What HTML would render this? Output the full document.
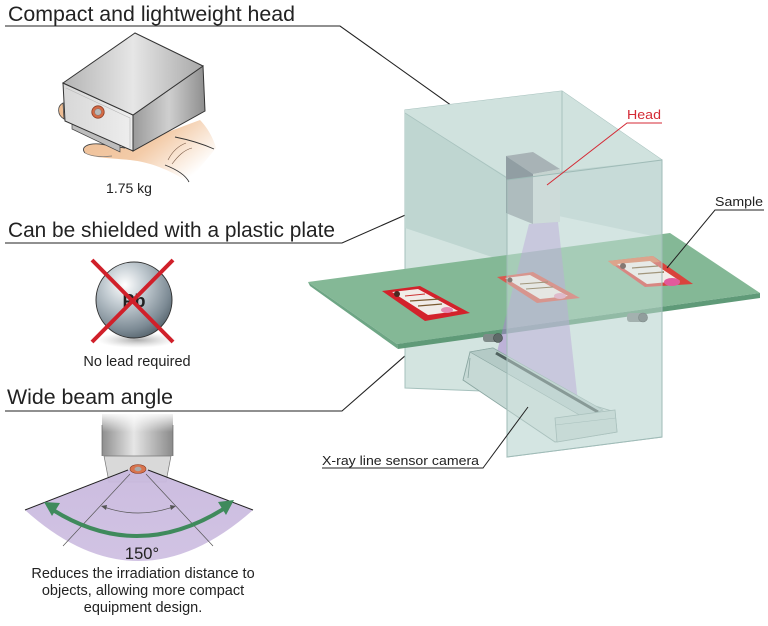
<!DOCTYPE html>
<html>
<head>
<meta charset="utf-8">
<style>
html,body{margin:0;padding:0;background:#fff;}
svg{display:block;}
text{font-family:"Liberation Sans",Arial,sans-serif;}
</style>
</head>
<body>
<svg width="768" height="626" viewBox="0 0 768 626" xmlns="http://www.w3.org/2000/svg">
<defs>
  <linearGradient id="skin" x1="0" y1="0" x2="1" y2="0.6">
    <stop offset="0" stop-color="#eebd93"/>
    <stop offset="0.55" stop-color="#f3cba8"/>
    <stop offset="1" stop-color="#ffffff"/>
  </linearGradient>
  <linearGradient id="boxTop" x1="0" y1="0" x2="1" y2="0">
    <stop offset="0" stop-color="#b4b4b4"/>
    <stop offset="0.5" stop-color="#e6e6e6"/>
    <stop offset="1" stop-color="#a8a8a8"/>
  </linearGradient>
  <linearGradient id="boxFront" x1="0" y1="0" x2="1" y2="0">
    <stop offset="0" stop-color="#d7d7d7"/>
    <stop offset="1" stop-color="#eeeeee"/>
  </linearGradient>
  <linearGradient id="boxRight" x1="0" y1="0" x2="1" y2="0">
    <stop offset="0" stop-color="#9a9a9a"/>
    <stop offset="0.5" stop-color="#cfcfcf"/>
    <stop offset="1" stop-color="#8e8e8e"/>
  </linearGradient>
  <radialGradient id="ball" cx="0.38" cy="0.3" r="0.75">
    <stop offset="0" stop-color="#ffffff"/>
    <stop offset="0.35" stop-color="#c4cdd3"/>
    <stop offset="0.8" stop-color="#7c8a94"/>
    <stop offset="1" stop-color="#55636c"/>
  </radialGradient>
  <radialGradient id="shadow" cx="0.5" cy="0.5" r="0.5">
    <stop offset="0" stop-color="#888" stop-opacity="0.7"/>
    <stop offset="1" stop-color="#bbb" stop-opacity="0"/>
  </radialGradient>
  <linearGradient id="devBody" x1="0" y1="0" x2="1" y2="0">
    <stop offset="0" stop-color="#8e8e8e"/>
    <stop offset="0.45" stop-color="#e6e6e6"/>
    <stop offset="1" stop-color="#8a8a8a"/>
  </linearGradient>
  <linearGradient id="devFade" x1="0" y1="0" x2="0" y2="1">
    <stop offset="0" stop-color="#ffffff" stop-opacity="1"/>
    <stop offset="1" stop-color="#ffffff" stop-opacity="0"/>
  </linearGradient>
  <linearGradient id="fan" x1="0" y1="0" x2="0" y2="1">
    <stop offset="0" stop-color="#c9b9de"/>
    <stop offset="1" stop-color="#cfc0e2"/>
  </linearGradient>
</defs>

<!-- ========== LEFT: headings and leader lines ========== -->
<text x="8" y="21" font-size="21" fill="#222" textLength="287" lengthAdjust="spacingAndGlyphs">Compact and lightweight head</text>
<polyline points="5,26 340,26 525,158" fill="none" stroke="#222" stroke-width="1.1"/>

<text x="8" y="237" font-size="21" fill="#222" textLength="327" lengthAdjust="spacingAndGlyphs">Can be shielded with a plastic plate</text>
<polyline points="5,243 342,243 428,205" fill="none" stroke="#222" stroke-width="1.1"/>

<text x="7" y="404" font-size="21" fill="#222" textLength="166" lengthAdjust="spacingAndGlyphs">Wide beam angle</text>
<polyline points="5,411 342,411 534,243" fill="none" stroke="#222" stroke-width="1.1"/>

<!-- ========== Head on hand ========== -->
<path d="M63,103 C57,106 57,115 64,119 Z" fill="#eebd93" stroke="#444" stroke-width="0.8"/>
<path d="M85,153 C80,147 88,143 100,144 L125,148 L200,120 C208,128 214,140 216,148 L188,182 C170,170 150,162 130,160 C110,158 92,158 85,153 Z" fill="url(#skin)"/>
<path d="M85,153 C80,147 88,143 100,144 L125,148" fill="none" stroke="#444" stroke-width="0.9"/>
<path d="M85,153 C92,157 104,157 112,156" fill="none" stroke="#777" stroke-width="0.7"/>
<path d="M175,137 C190,140 205,145 214,149" fill="none" stroke="#333" stroke-width="0.9"/>
<path d="M165,165 C178,170 186,176 189,182" fill="none" stroke="#333" stroke-width="0.9"/>
<path d="M168,160 C172,152 178,146 186,143" fill="none" stroke="#7a5a45" stroke-width="0.6"/>
<path d="M172,164 C178,156 184,150 192,148" fill="none" stroke="#7a5a45" stroke-width="0.6"/>
<!-- box -->
<polygon points="72,120 120,143 120,152 72,129" fill="#bdbdbd" stroke="#444" stroke-width="0.7"/>
<polygon points="63,83 133,115 133,151 65,121" fill="url(#boxFront)" stroke="#333" stroke-width="1"/>
<polyline points="66,88 130,118 130,148" fill="none" stroke="#b5b5b5" stroke-width="0.6"/>
<polygon points="133,115 203,66 205,111 133,151" fill="url(#boxRight)" stroke="#333" stroke-width="1"/>
<polygon points="63,83 135,33 203,66 133,115" fill="url(#boxTop)" stroke="#333" stroke-width="1"/>
<circle cx="98" cy="112" r="6.2" fill="#d46a45" stroke="#8a3b22" stroke-width="0.8"/>
<circle cx="98" cy="112" r="3.3" fill="#b8b8b8" stroke="#777" stroke-width="0.5"/>
<text x="129" y="193" font-size="14" fill="#222" text-anchor="middle">1.75 kg</text>

<!-- ========== Pb ball ========== -->
<ellipse cx="137" cy="340" rx="40" ry="8" fill="url(#shadow)"/>
<circle cx="134" cy="300" r="38" fill="url(#ball)" stroke="#333" stroke-width="1"/>
<text x="134" y="307" font-size="18" font-weight="bold" fill="#222" text-anchor="middle">Pb</text>
<line x1="92" y1="260" x2="173" y2="342" stroke="#d0202a" stroke-width="4"/>
<line x1="173" y1="260" x2="92" y2="342" stroke="#d0202a" stroke-width="4"/>
<text x="137" y="366" font-size="14.5" fill="#222" text-anchor="middle">No lead required</text>

<!-- ========== Wide beam angle illustration ========== -->
<rect x="102" y="414" width="71" height="42" fill="url(#devBody)"/>
<rect x="100" y="412" width="75" height="20" fill="url(#devFade)"/>
<line x1="102" y1="425" x2="102" y2="456" stroke="#666" stroke-width="0.7"/>
<line x1="173" y1="425" x2="173" y2="456" stroke="#666" stroke-width="0.7"/>
<polygon points="104,456 171,456 166,482 109,482" fill="#d9d9d9" stroke="#777" stroke-width="0.7"/>
<path d="M128,470 L25,510 Q138,612 253,510 L148,470 Z" fill="url(#fan)" fill-opacity="0.95"/>
<line x1="128" y1="470" x2="25" y2="510" stroke="#222" stroke-width="1"/>
<line x1="148" y1="470" x2="253" y2="510" stroke="#222" stroke-width="1"/>
<line x1="130" y1="474" x2="63" y2="546" stroke="#555" stroke-width="0.7"/>
<line x1="146" y1="474" x2="213" y2="546" stroke="#555" stroke-width="0.7"/>
<path d="M104,507 Q138,519 173,507" fill="none" stroke="#555" stroke-width="0.7"/>
<polygon points="101,506 107,505 106,510" fill="#555"/>
<polygon points="176,506 170,505 171,510" fill="#555"/>
<ellipse cx="138" cy="469" rx="8" ry="4.5" fill="#d8744e" stroke="#8a3b22" stroke-width="0.6"/>
<ellipse cx="138" cy="469" rx="3.5" ry="2.2" fill="#aaa"/>
<path d="M53,510 Q138,563 225,508" fill="none" stroke="#3f8a5c" stroke-width="4"/>
<polygon points="44,502 60,503 52,516" fill="#3f8a5c"/>
<polygon points="234,500 218,502 226,515" fill="#3f8a5c"/>
<text x="142" y="559" font-size="16.5" fill="#222" text-anchor="middle">150°</text>
<text x="143" y="578" font-size="14.5" fill="#222" text-anchor="middle">Reduces the irradiation distance to</text>
<text x="143" y="595" font-size="14.5" fill="#222" text-anchor="middle">objects, allowing more compact</text>
<text x="143" y="612" font-size="14.5" fill="#222" text-anchor="middle">equipment design.</text>

<!-- ========== RIGHT: 3D system ========== -->
<polygon points="405,110 562,91 662,160 662,437 507,457 507,392 405,388" fill="#d3e4e0" stroke="#a6c1bd" stroke-width="1"/>
<polygon points="405,110 562,91 662,160 507,180 405,113" fill="#d0e2de"/>
<polygon points="405,113 507,177 507,262 405,228" fill="#bfd6d1"/>
<polygon points="507,177 662,160 662,238 507,205" fill="#bcd3cf"/>
<line x1="562" y1="91" x2="562" y2="175" stroke="#a9c3bf" stroke-width="1"/>
<line x1="405" y1="113" x2="507" y2="178" stroke="#a9c3bf" stroke-width="0.8"/>

<!-- conveyor plate -->
<polygon points="308,282 670,233 760,293 397,344" fill="#84b896"/>
<polygon points="397,344 760,293 760,298 398,349" fill="#5f9a78"/>
<polygon points="308,282 397,344 398,349 310,286" fill="#6ea685"/>

<!-- head -->
<polygon points="506,156 533,152 560,169 533,174" fill="#a8b3b6"/>
<polygon points="506,156 533,174 533,224 506,213" fill="#919ea3"/>
<polygon points="533,174 560,169 560,222 533,224" fill="#c6d3d0"/>

<!-- beam -->
<polygon points="529,224 558,222 578,402 497,352" fill="#a77fd0" fill-opacity="0.5"/>

<!-- rollers -->
<rect x="483" y="334" width="16" height="8" rx="3" fill="#7f8b89"/>
<ellipse cx="498" cy="338" rx="4.5" ry="4.5" fill="#5f6a69" stroke="#3f4847" stroke-width="0.6"/>
<rect x="627" y="313" width="17" height="9" rx="3" fill="#7f8b89"/>
<ellipse cx="643" cy="317.5" rx="4.5" ry="4.5" fill="#5f6a69" stroke="#3f4847" stroke-width="0.6"/>

<!-- sensor rail -->
<polygon points="470,352 493,348 592,405 615,412 617,432 555,442 463,380" fill="#c6d9d5" stroke="#8aa6a1" stroke-width="0.9"/>
<polygon points="470,352 493,348 603,410 583,417" fill="#b4cac6" stroke="#8aa6a1" stroke-width="0.6"/>
<line x1="496" y1="353" x2="598" y2="412" stroke="#50625f" stroke-width="3"/>
<line x1="470" y1="358" x2="468" y2="378" stroke="#8aa6a1" stroke-width="0.8"/>
<polygon points="555,418 615,410 617,432 557,442" fill="#bcd1cc" stroke="#8aa6a1" stroke-width="0.8"/>
<line x1="555" y1="425" x2="616" y2="418" stroke="#8aa6a1" stroke-width="0.6"/>

<!-- samples -->
<polygon points="382,291 420,286 470,313 425,321" fill="#d3222b"/>
<polygon points="392,292 418,289 458,311 428,315" fill="#f1ece8"/>
<circle cx="397" cy="294" r="3" fill="#4a2a22"/>
<ellipse cx="447" cy="310" rx="6" ry="3" fill="#e58ab0"/>
<line x1="405" y1="296" x2="425" y2="294" stroke="#c33" stroke-width="1"/>
<line x1="410" y1="301" x2="440" y2="299" stroke="#7a5a30" stroke-width="1.2"/>
<line x1="418" y1="306" x2="442" y2="304" stroke="#7a5a30" stroke-width="1.2"/>

<polygon points="497,277 533,272 580,298 537,303" fill="#d85a50"/>
<polygon points="505,278 530,275 568,296 540,299" fill="#efe6e2"/>
<circle cx="510" cy="280" r="2.5" fill="#4a2a22"/>
<ellipse cx="560" cy="296" rx="6" ry="3" fill="#e59ab8"/>
<line x1="520" y1="284" x2="548" y2="282" stroke="#7a5a30" stroke-width="1.1"/>
<line x1="526" y1="289" x2="553" y2="287" stroke="#7a5a30" stroke-width="1.1"/>

<polygon points="608,261 653,256 693,284 645,287" fill="#d9433c"/>
<polygon points="608,261 653,256 660,262 614,266" fill="#e0744c"/>
<polygon points="617,264 650,261 680,281 647,284" fill="#f3ece8"/>
<circle cx="623" cy="266" r="3" fill="#4a2a22"/>
<ellipse cx="672" cy="282" rx="8" ry="4" fill="#e25a9c"/>
<line x1="632" y1="268" x2="658" y2="266" stroke="#7a5a30" stroke-width="1.2"/>
<line x1="638" y1="274" x2="664" y2="272" stroke="#7a5a30" stroke-width="1.2"/>

<!-- front transparent panel -->
<polygon points="507,180 662,160 662,437 507,457" fill="#d6e8e4" fill-opacity="0.42" stroke="#9fbbb7" stroke-width="1"/>

<!-- right labels and leaders -->
<text x="627" y="119" font-size="13" fill="#d42a35" textLength="34" lengthAdjust="spacingAndGlyphs">Head</text>
<polyline points="662,123 627,123 547,185" fill="none" stroke="#d42a35" stroke-width="1"/>

<text x="715" y="206" font-size="13" fill="#222" textLength="48" lengthAdjust="spacingAndGlyphs">Sample</text>
<polyline points="764,210 715,210 667,268" fill="none" stroke="#222" stroke-width="1"/>

<text x="322" y="465" font-size="13" fill="#222" textLength="157" lengthAdjust="spacingAndGlyphs">X-ray line sensor camera</text>
<polyline points="322,468 483,468 528,407" fill="none" stroke="#222" stroke-width="1"/>
</svg>
</body>
</html>
